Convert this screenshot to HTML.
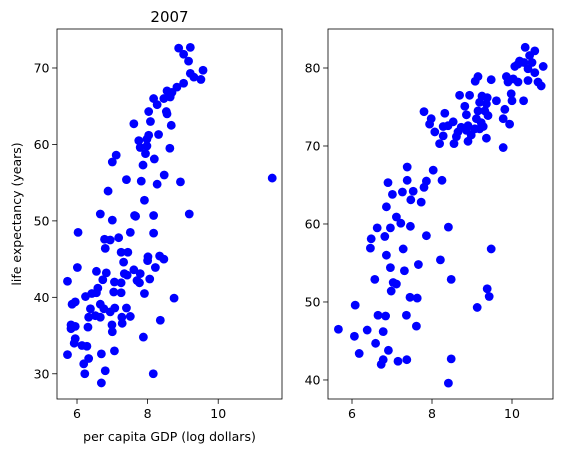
<!DOCTYPE html>
<html><head><meta charset="utf-8">
<style>
html,body{margin:0;padding:0;background:#fff;}
svg text{font-family:"DejaVu Sans","Liberation Sans",sans-serif;fill:#000;}
</style></head>
<body>
<svg id="fig" width="563" height="453" viewBox="0 0 563 453" xmlns="http://www.w3.org/2000/svg">
<rect width="563" height="453" fill="#fff"/>
</svg>
<script>
// Left panel data: 2007, log GDP vs life expectancy
const gdpLeft = [8.88,9.21,9.02,9.16,9.57,9.21,9.31,9.51,9.02,8.83,8.69,8.55,8.64,8.46,8.17,8.27,8.03,8.53,8.55,8.08,7.61,8.67,8.03,8.31,7.75,7.98,7.79,7.98,7.94,8.63,7.11,7.0,7.87,8.19,7.40,7.82,8.27,8.47,8.93,11.53,6.88,7.91,
6.66,7.0,7.63,7.66,8.17,9.18,6.03,6.78,6.94,7.18,7.51,8.17,6.80,7.25,7.44,8.01,8.0,8.34,8.46,7.32,8.22,6.01,6.55,6.83,7.61,7.34,7.42,7.79,8.06,7.70,7.77,5.73,6.73,7.06,7.25,6.59,7.04,7.25,7.91,6.55,6.42,6.24,8.75,5.95,5.86,6.66,6.76,6.38,7.07,7.40,6.94,6.33,6.52,6.66,7.27,7.51,8.36,7.28,6.99,5.83,5.95,5.83,6.31,7.0,7.88,5.95,5.92,6.14,6.28,5.73,6.69,7.06,6.33,6.19,6.80,6.22,8.16,6.69];
const lifeLeft = [72.6,72.7,71.8,70.9,69.7,69.3,68.8,68.5,68.0,67.5,66.8,67.0,66.2,66.0,66.0,65.2,64.3,64.3,64.0,63.0,62.7,62.5,61.2,61.3,60.5,60.7,59.6,59.8,58.8,59.5,58.6,57.7,57.3,58.1,55.4,55.2,54.8,56.0,55.1,55.6,53.9,52.7,
50.9,50.1,50.7,50.6,50.7,50.9,48.5,47.6,47.5,47.8,48.5,48.4,46.4,45.9,45.9,45.3,44.8,45.4,45.0,44.6,43.9,43.9,43.4,43.2,43.6,43.1,42.9,43.1,42.4,42.2,41.9,42.1,42.3,42.0,41.9,41.2,40.7,40.6,40.5,40.6,40.5,40.1,39.9,39.4,39.1,39.1,38.5,38.5,38.6,38.6,38.1,37.4,37.6,37.4,37.4,37.5,37.0,36.6,36.4,36.4,36.2,35.9,36.1,35.5,34.8,34.6,34.0,33.7,33.6,32.5,32.6,33.0,32.0,31.3,30.4,30.0,30.0,28.8];
// Right panel data
const gdpRight = [10.33,10.57,10.44,10.19,10.15,10.30,10.5,10.78,10.4,10.57,10.07,9.86,10.03,9.9,10.15,10.4,10.65,10.73,9.15,9.08,9.48,9.98,10.0,10.29,8.69,8.94,9.25,9.38,9.61,9.19,9.36,8.82,9.82,9.15,9.32,7.8,8.32,8.86,9.4,7.98,9.78,9.11,9.23,8.53,7.94,8.28,8.4,8.9,9.94,9.28,8.73,9.07,8.07,8.65,8.86,9.19,8.28,8.61,8.98,8.19,8.55,8.9,9.36,9.78,7.38,8.03,6.9,7.38,7.86,8.25,7.8,7.01,7.26,7.53,7.47,7.73,6.86,
7.11,7.22,6.63,6.96,7.46,8.41,6.82,6.48,7.86,6.46,7.28,9.48,6.86,8.21,6.96,7.31,7.66,6.57,8.48,7.03,7.11,6.98,7.45,7.63,9.38,9.43,6.08,9.13,6.65,6.84,7.36,7.61,5.66,6.06,6.38,6.78,6.59,6.18,6.91,6.78,6.73,7.15,7.37,8.48,8.41];
const lifeRight = [82.65,82.2,81.6,80.9,80.5,80.7,80.7,80.2,79.9,79.4,80.2,78.9,78.6,78.2,78.2,78.4,78.2,77.7,78.9,78.3,78.5,76.7,75.8,75.8,76.5,76.5,76.4,76.2,75.8,75.6,75.4,75.1,74.7,74.5,74.5,74.4,74.2,74.0,73.9,73.5,73.5,73.5,73.0,73.1,72.8,72.5,72.6,72.6,72.8,72.5,72.4,72.2,71.8,71.8,72.0,72.2,71.3,71.2,71.4,70.3,70.3,70.6,71.0,69.8,67.3,66.9,65.3,65.6,65.5,65.6,64.7,63.8,64.1,64.2,63.1,62.8,62.2,
60.9,60.1,59.5,59.5,59.7,59.6,58.4,58.1,58.5,56.9,56.8,56.8,56.0,55.4,54.4,54.0,54.8,52.9,52.9,52.5,52.3,51.4,50.6,50.5,51.7,50.7,49.6,49.3,48.3,48.2,48.3,46.9,46.5,45.6,46.4,46.2,44.7,43.4,43.8,42.6,42.0,42.4,42.6,42.7,39.6];
const xTicksLeft = [6,8,10];
const yTicksLeft = [30,40,50,60,70];
const xTicksRight = [6,8,10];
const yTicksRight = [40,50,60,70,80];

const NS = "http://www.w3.org/2000/svg";
const svg = document.getElementById('fig');
function mk(tag, attrs, parent){
  const e = document.createElementNS(NS, tag);
  for (const k in attrs) e.setAttribute(k, attrs[k]);
  (parent||svg).appendChild(e);
  return e;
}
function panel(name, box, xd, yd, xs, ys, xt, yt){
  const g = mk('g', {});
  
  
  const sx = v => box.x + (v - xd[0]) / (xd[1] - xd[0]) * box.w;
  const sy = v => box.y + box.h - (v - yd[0]) / (yd[1] - yd[0]) * box.h;
  for (let i = 0; i < xs.length; i++) {
    const c = mk('circle', {cx: sx(xs[i]), cy: sy(ys[i]), r: 4.4, fill: '#0000ff'}, g);
    
    
  }
  const fr = mk('rect', {x: box.x, y: box.y, width: box.w, height: box.h, fill: 'none', stroke: '#000', 'stroke-width': 0.8}, g);
  
  
  xt.forEach(t => {
    const x = sx(t);
    mk('line', {x1: x, x2: x, y1: box.y + box.h, y2: box.y + box.h + 4.9, stroke: '#000', 'stroke-width': 0.8}, g);
    const tx = mk('text', {x: x, y: box.y + box.h + 19, 'font-size': 12.5, 'text-anchor': 'middle'}, g);
    tx.textContent = t;
    
    
  });
  yt.forEach(t => {
    const y = sy(t);
    mk('line', {x1: box.x - 4.9, x2: box.x, y1: y, y2: y, stroke: '#000', 'stroke-width': 0.8}, g);
    const tx = mk('text', {x: box.x - 7.5, y: y + 4.5, 'font-size': 12.5, 'text-anchor': 'end'}, g);
    tx.textContent = t;
    
    
  });
}
panel('left-panel', {x: 57, y: 29, w: 225, h: 370}, [5.433, 11.807], [26.7, 75.1],
  gdpLeft, lifeLeft, xTicksLeft, yTicksLeft);
panel('right-panel', {x: 328, y: 29, w: 225, h: 370}, [5.4, 11.025], [37.56, 85.0],
  gdpRight, lifeRight, xTicksRight, yTicksRight);

const title = mk('text', {x: 169.5, y: 22, 'font-size': 15, 'text-anchor': 'middle'});
title.textContent = '2007';


const xl = mk('text', {x: 169.5, y: 441, 'font-size': 12.5, 'text-anchor': 'middle'});
xl.textContent = 'per capita GDP (log dollars)';


const yl = mk('text', {x: 0, y: 0, 'font-size': 12.5, 'text-anchor': 'middle', transform: 'translate(21,214) rotate(-90)'});
yl.textContent = 'life expectancy (years)';


</script>
</body></html>
